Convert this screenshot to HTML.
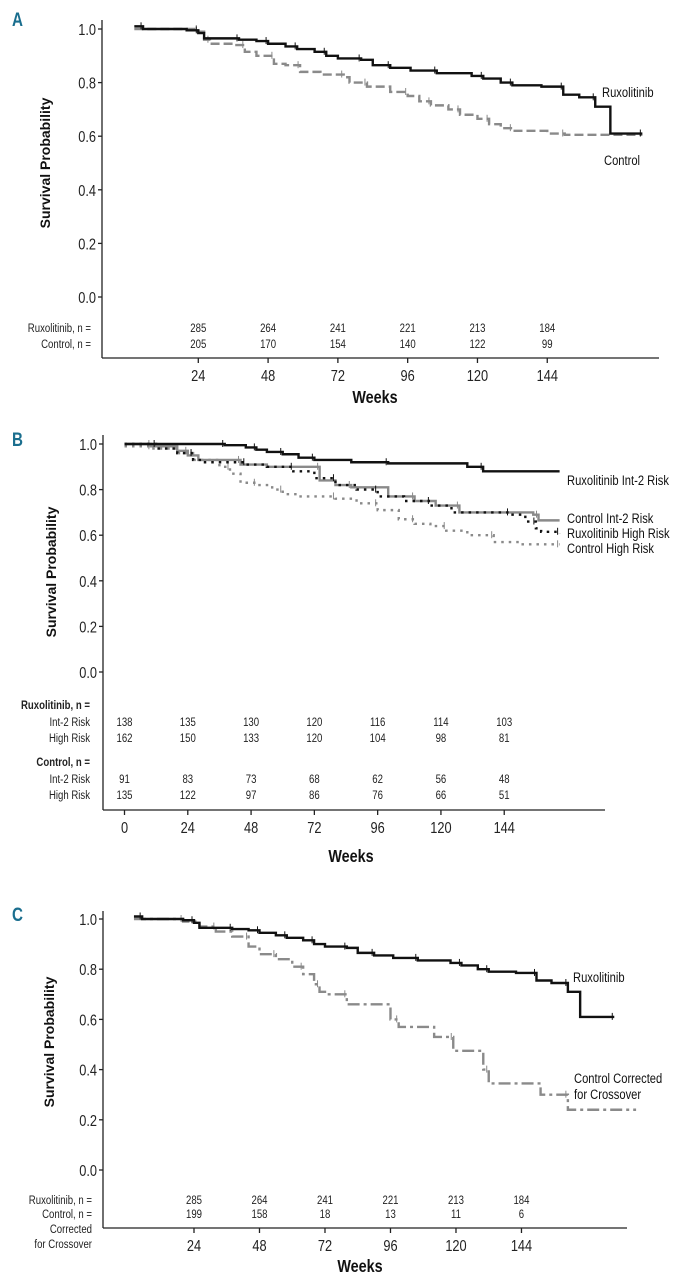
<!DOCTYPE html>
<html><head><meta charset="utf-8"><style>
html,body{margin:0;padding:0;background:#fff;}
svg{display:block;font-family:"Liberation Sans Narrow","Liberation Sans",sans-serif;}
.tk{font-size:16px;fill:#222;}
.nn{font-size:12px;fill:#222;}
.ax{stroke:#222;stroke-width:1.3;fill:none;}
.tt{font-family:"Liberation Sans",sans-serif;font-weight:bold;font-size:14px;fill:#111;}
.wk{font-weight:bold;font-size:18px;fill:#111;}
.let{font-weight:bold;font-size:19px;fill:#1a6e8e;}
.lab{font-size:14px;fill:#111;}
</style></head><body>
<svg id="fig" width="673" height="1280" viewBox="0 0 673 1280" xmlns="http://www.w3.org/2000/svg"></svg>
<script>
// ---------- Panel A data ----------
const aTicks=[24,48,72,96,120,144];
const aYTicks=[0,0.2,0.4,0.6,0.8,1.0];
const aRuxN=[285,264,241,221,213,184];
const aCtlN=[205,170,154,140,122,99];
const aRuxW=[2,5,20,24,26,38,44,48,54,58,64,68,72,80,84,90,97,106,118,122,128,132,142,149.5,155,160.5,165.7,176.7];
const aRuxS=[1.01,1.0,0.995,0.985,0.965,0.96,0.955,0.945,0.935,0.925,0.915,0.9,0.89,0.885,0.865,0.855,0.845,0.835,0.825,0.815,0.80,0.79,0.785,0.755,0.745,0.71,0.61,0.61];
const aCtlW=[2,24,26,28,36,40,44,50,54,59,66,74,76,82,90,96,100,104,110,114,120,124,128,132,144,150,176.7];
const aCtlS=[1.0,0.99,0.96,0.945,0.94,0.915,0.9,0.87,0.865,0.84,0.83,0.82,0.80,0.785,0.765,0.75,0.73,0.715,0.70,0.68,0.665,0.645,0.63,0.62,0.61,0.605,0.605];
// ---------- Panel B data ----------
const bTicks=[0,24,48,72,96,120,144];
const bRuxIntN=[138,135,130,120,116,114,103];
const bRuxHighN=[162,150,133,120,104,98,81];
const bCtlIntN=[91,83,73,68,62,56,48];
const bCtlHighN=[135,122,97,86,76,66,51];
const bRuxIntW=[0,38,46,50,54,60,66,72,86,100,130,136,165];
const bRuxIntS=[1.0,0.995,0.985,0.975,0.965,0.955,0.94,0.93,0.92,0.915,0.90,0.88,0.88];
const bCtlIntW=[0,10,20,24,28,44,54,74,80,86,100,110,118,127,155,157,165];
const bCtlIntS=[1.0,0.99,0.97,0.95,0.93,0.91,0.90,0.84,0.82,0.81,0.77,0.75,0.73,0.70,0.69,0.665,0.665];
const bRuxHighW=[0,12,20,26,30,46,54,64,72,80,88,96,106,116,124,146,152,156,158,165];
const bRuxHighS=[1.0,0.98,0.96,0.93,0.92,0.91,0.90,0.88,0.85,0.82,0.80,0.77,0.75,0.73,0.70,0.69,0.66,0.63,0.615,0.605];
const bCtlHighW=[0,10,20,26,36,40,44,50,56,60,66,80,88,96,104,110,116,122,130,140,150,165];
const bCtlHighS=[0.99,0.98,0.96,0.93,0.90,0.87,0.83,0.82,0.80,0.78,0.77,0.76,0.74,0.71,0.67,0.65,0.64,0.62,0.60,0.57,0.56,0.56];
// ---------- Panel C data ----------
const cTicks=[24,48,72,96,120,144];
const cRuxN=[285,264,241,221,213,184];
const cCtlN=[199,158,18,13,11,6];
const cRuxW=[2,5,20,24,26,38,44,48,54,58,64,68,72,80,84,90,97,106,118,122,128,132,142,149.5,155,161,165.5,178];
const cRuxS=[1.01,1.0,0.995,0.985,0.965,0.96,0.955,0.945,0.935,0.925,0.915,0.9,0.89,0.885,0.865,0.855,0.845,0.835,0.825,0.815,0.80,0.79,0.785,0.755,0.745,0.71,0.61,0.61];
const cCtlW=[2,20,26,32,38,44,48,54,60,64,68,70,72,80,96,99,112,119,130,132,151,161,186];
const cCtlS=[1.0,0.99,0.97,0.95,0.93,0.89,0.86,0.84,0.81,0.78,0.74,0.71,0.70,0.66,0.60,0.57,0.53,0.475,0.40,0.345,0.30,0.24,0.24];

const NS='http://www.w3.org/2000/svg';
const svg=document.getElementById('fig');
function mk(tag,attrs,parent,text){const e=document.createElementNS(NS,tag);for(const k in attrs)e.setAttribute(k,attrs[k]);if(text!==undefined)e.textContent=text;(parent||svg).appendChild(e);return e;}
function T(parent,x,y,str,cls,anchor,extra){
  const a={x:0,y:0,class:cls,'text-anchor':anchor||'start',transform:`translate(${x},${y}) scale(0.8,1)`};
  if(extra)for(const k in extra)a[k]=extra[k];
  return mk('text',a,parent,str);
}

function panel(P){
  const g=mk('g',{});
  
  
  const X=w=>P.x0+w*P.ppw;
  const Y=s=>P.y0-(P.y0-P.y1)*s;
  const L=T(g,12,P.letY,P.letter,'let','start');
  
  
  const ya=mk('line',{x1:P.ax,y1:P.axTop,x2:P.ax,y2:P.axY,class:'ax'},g);
  
  
  const xa=mk('line',{x1:P.ax,y1:P.axY,x2:P.axEnd,y2:P.axY,class:'ax'},g);
  
  
  aYTicks.forEach(v=>{
    mk('line',{x1:P.ax-4,y1:Y(v),x2:P.ax,y2:Y(v),class:'ax'},g);
    const t=T(g,P.ax-6,Y(v)+6,v.toFixed(1),'tk','end');
    
    
  });
  P.ticks.forEach(w=>{
    mk('line',{x1:X(w),y1:P.axY,x2:X(w),y2:P.axY+5,class:'ax'},g);
    const t=T(g,X(w),P.axY+23,String(w),'tk','middle');
    
    
  });
  const wt=T(g,P.wkX,P.wkY,'Weeks','wk','middle');
  
  
  const yt=mk('text',{x:0,y:0,class:'tt','text-anchor':'middle',transform:`translate(${P.ytX},${P.ytY}) rotate(-90)`},g,'Survival Probability');
  
  
  P.rows.forEach(r=>{
    const t=T(g,P.rowLabX,r.y,r.label,'nn','end',{'font-weight':r.bold?'bold':'normal'});
    
    
    if(r.vals) r.vals.forEach((v,i)=>{
      const n=T(g,X(P.ticks[i]),r.y,String(v),'nn','middle');
      
      
    });
  });
  P.series.forEach(s=>{
    let d=`M${X(s.w[0])},${Y(s.s[0])}`;
    for(let i=1;i<s.w.length;i++){d+=`H${X(s.w[i])}V${Y(s.s[i])}`;}
    const p=mk('path',{d:d,fill:'none',stroke:s.color,'stroke-width':s.sw||2.4,'stroke-dasharray':s.dash||'none'},g);
    
    
    for(let i=1;i<s.w.length;i+=2){
      mk('line',{x1:X(s.w[i])-2,y1:Y(s.s[i-1])+3,x2:X(s.w[i])-2,y2:Y(s.s[i-1])-4,stroke:s.color,'stroke-width':1},g);
    }
  });
  P.labels.forEach(l=>{
    const t=T(g,l.x,l.y,l.t,'lab','start');
    
    
  });
}

panel({name:'panel-a',letter:'A',letY:26,x0:128.5,ppw:2.908,y0:297,y1:29,ax:102,axTop:20,axY:358,axEnd:659,
  ticks:aTicks,wkX:375,wkY:403,ytX:50,ytY:163,rowLabX:91,
  rows:[{label:'Ruxolitinib, n =',y:332,vals:aRuxN},{label:'Control, n =',y:348,vals:aCtlN}],
  series:[{name:'control-curve',w:aCtlW,s:aCtlS,color:'#8a8a8a',dash:'9,4'},{name:'ruxolitinib-curve',w:aRuxW,s:aRuxS,color:'#111'}],
  labels:[{x:602,y:97,t:'Ruxolitinib'},{x:604,y:165,t:'Control'}]});

panel({name:'panel-b',letter:'B',letY:446,x0:124.5,ppw:2.637,y0:672,y1:444,ax:103,axTop:435,axY:810,axEnd:605,
  ticks:bTicks,wkX:351,wkY:862,ytX:56,ytY:572,rowLabX:90,
  rows:[{label:'Ruxolitinib, n =',y:709,bold:true},{label:'Int-2 Risk',y:726,vals:bRuxIntN},{label:'High Risk',y:742,vals:bRuxHighN},
        {label:'Control, n =',y:766,bold:true},{label:'Int-2 Risk',y:783,vals:bCtlIntN},{label:'High Risk',y:799,vals:bCtlHighN}],
  series:[{name:'control-high-risk-curve',w:bCtlHighW,s:bCtlHighS,color:'#8a8a8a',dash:'2.5,5'},
          {name:'control-int2-risk-curve',w:bCtlIntW,s:bCtlIntS,color:'#8a8a8a'},
          {name:'ruxolitinib-high-risk-curve',w:bRuxHighW,s:bRuxHighS,color:'#111',dash:'2.5,5'},
          {name:'ruxolitinib-int2-risk-curve',w:bRuxIntW,s:bRuxIntS,color:'#111'}],
  labels:[{x:567,y:485,t:'Ruxolitinib Int-2 Risk'},{x:567,y:523,t:'Control Int-2 Risk'},{x:567,y:538,t:'Ruxolitinib High Risk'},{x:567,y:553,t:'Control High Risk'}]});

panel({name:'panel-c',letter:'C',letY:921,x0:128.5,ppw:2.729,y0:1170,y1:919,ax:103,axTop:911,axY:1228,axEnd:627,
  ticks:cTicks,wkX:360,wkY:1272,ytX:54,ytY:1042,rowLabX:92,
  rows:[{label:'Ruxolitinib, n =',y:1204,vals:cRuxN},{label:'Control, n =',y:1218,vals:cCtlN},{label:'Corrected',y:1233},{label:'for Crossover',y:1248}],
  series:[{name:'control-corrected-curve',w:cCtlW,s:cCtlS,color:'#8a8a8a',dash:'12,4,3,4'},{name:'ruxolitinib-curve',w:cRuxW,s:cRuxS,color:'#111'}],
  labels:[{x:573,y:982,t:'Ruxolitinib'},{x:574,y:1083,t:'Control Corrected'},{x:574,y:1099,t:'for Crossover'}]});
</script>
</body></html>
